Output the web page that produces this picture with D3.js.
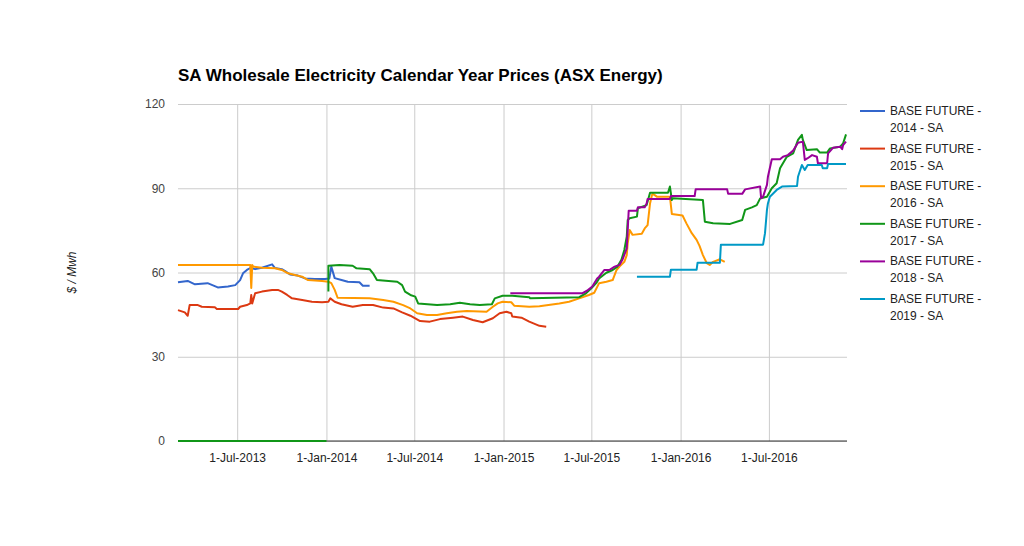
<!DOCTYPE html>
<html>
<head>
<meta charset="utf-8">
<script src="https://cdn.jsdelivr.net/npm/d3@7"></script>
<style>
  html, body { margin: 0; padding: 0; background: #fff; overflow: hidden; }
  svg { display: block; }
  text { font-family: "Liberation Sans", Arial, sans-serif; }
</style>
</head>
<body>
<div id="line-chart"></div>
<script>
// Chart data
const seriesNames = [
  "BASE FUTURE - 2014 - SA",
  "BASE FUTURE - 2015 - SA",
  "BASE FUTURE - 2016 - SA",
  "BASE FUTURE - 2017 - SA",
  "BASE FUTURE - 2018 - SA",
  "BASE FUTURE - 2019 - SA"
];

const base2014 = [
  ["2013-03-01",56.5],["2013-03-21",57],["2013-04-05",55.8],["2013-05-01",56.2],["2013-05-22",54.7],
  ["2013-06-12",55],["2013-06-27",55.5],["2013-07-07",57.3],["2013-07-13",59.7],["2013-07-21",60.9],
  ["2013-07-28",61.6],["2013-08-07",61.2],["2013-08-21",61.7],["2013-09-11",62.9],["2013-09-17",61.6],
  ["2013-10-01",61.2],["2013-10-08",60.5],["2013-10-18",59.3],["2013-11-03",58.9],["2013-11-18",57.9],
  ["2013-12-08",57.7],["2013-12-29",57.7],["2014-01-07",57.9],["2014-01-11",62.1],["2014-01-18",58],
  ["2014-02-01",57.3],["2014-02-14",56.7],["2014-03-10",56.5],["2014-03-17",55.3],["2014-03-31",55.3]
];

const base2015 = [
  ["2013-03-01",46.6],["2013-03-15",45.8],["2013-03-21",44.6],["2013-03-25",48.4],["2013-04-11",48.4],
  ["2013-04-19",47.8],["2013-05-16",47.6],["2013-05-20",47],["2013-07-03",47],["2013-07-07",47.8],
  ["2013-07-21",48.4],["2013-07-28",49],["2013-07-30",52],["2013-08-01",49],["2013-08-07",52.6],
  ["2013-08-21",53.2],["2013-09-11",53.8],["2013-09-23",53.8],["2013-10-01",53.2],["2013-10-12",52],
  ["2013-10-22",50.8],["2013-11-12",50.2],["2013-12-02",49.6],["2013-12-23",49.4],["2014-01-05",49.6],
  ["2014-01-09",50.8],["2014-01-18",49.6],["2014-02-01",48.7],["2014-02-24",47.8],["2014-03-17",48.4],
  ["2014-04-07",48.4],["2014-04-28",47.5],["2014-05-19",47.2],["2014-06-06",45.8],["2014-06-23",44.6],
  ["2014-07-13",42.7],["2014-08-02",42.5],["2014-08-23",43.4],["2014-09-19",43.9],["2014-10-09",44.3],
  ["2014-10-30",43.1],["2014-11-19",42.3],["2014-12-10",43.7],["2014-12-24",45.5],["2015-01-07",46],
  ["2015-01-17",45.5],["2015-01-19",44.3],["2015-02-07",43.9],["2015-02-23",42.5],["2015-03-16",41],
  ["2015-03-30",40.7]
];

const base2016 = [
  ["2013-03-01",62.7],["2013-07-28",62.7],["2013-07-30",54.5],["2013-08-01",62.7],["2013-08-03",62.1],
  ["2013-08-21",61.7],["2013-09-17",61.5],["2013-10-01",60.9],["2013-10-14",59.7],["2013-10-28",59.1],
  ["2013-11-12",58.5],["2013-11-24",57.3],["2013-12-23",57],["2014-01-05",56.7],["2014-01-11",56.2],
  ["2014-01-18",53.8],["2014-01-24",51],["2014-03-31",50.8],["2014-04-28",50.2],["2014-05-19",49.6],
  ["2014-06-08",48.4],["2014-06-23",47.2],["2014-07-07",45.5],["2014-07-27",44.9],["2014-08-17",44.9],
  ["2014-09-06",45.5],["2014-09-27",46],["2014-10-17",46.3],["2014-11-27",46],["2014-12-10",47.8],
  ["2014-12-20",49],["2014-12-30",49.6],["2015-01-17",49.4],["2015-01-23",48.2],["2015-02-23",47.8],
  ["2015-03-16",48],["2015-04-26",49],["2015-05-16",49.6],["2015-06-06",50.8],["2015-06-26",52],
  ["2015-07-07",52.8],["2015-07-17",56.2],["2015-08-01",56.7],["2015-08-14",57.3],["2015-08-22",60.9],
  ["2015-08-28",62.1],["2015-09-07",63.8],["2015-09-12",66.2],["2015-09-14",70.4],["2015-09-18",75.1],
  ["2015-09-24",73.4],["2015-10-13",73.8],["2015-10-19",75.7],["2015-10-25",76.9],["2015-10-30",84.6],
  ["2015-11-03",87.6],["2015-11-05",88],["2015-11-13",87],["2015-12-10",87],["2015-12-14",80.8],
  ["2016-01-05",80.3],["2016-01-13",77.5],["2016-01-24",74],["2016-02-03",71.6],["2016-02-09",69.5],
  ["2016-02-16",66.2],["2016-02-24",63.3],["2016-03-01",62.7],["2016-03-08",63.8],["2016-03-22",64.7],
  ["2016-04-01",63.8]
];

// null marks the gap after the zero run
const base2017 = [
  ["2013-03-01",0],["2014-01-01",0],["2014-01-03",null],
  ["2014-01-05",53.2],["2014-01-05",62.4],["2014-01-28",62.7],["2014-02-24",62.4],["2014-03-04",61.5],
  ["2014-03-31",61.2],["2014-04-07",59.7],["2014-04-15",57.3],["2014-05-27",56.7],["2014-06-06",55.5],
  ["2014-06-12",53.2],["2014-06-23",52],["2014-07-03",51.4],["2014-07-09",49],["2014-08-17",48.4],
  ["2014-09-13",48.7],["2014-10-03",49.2],["2014-10-24",48.7],["2014-11-13",48.4],["2014-12-08",48.7],
  ["2014-12-14",50.8],["2014-12-30",51.7],["2015-01-19",51.7],["2015-02-23",51.2],["2015-02-25",50.8],
  ["2015-06-06",51.2],["2015-06-20",52.6],["2015-07-01",54.4],["2015-07-11",56.2],["2015-07-17",57.9],
  ["2015-08-01",59.9],["2015-08-14",60.9],["2015-08-24",62.1],["2015-09-01",64.5],["2015-09-07",68],
  ["2015-09-12",72.8],["2015-09-14",78.7],["2015-09-18",79.3],["2015-10-03",79.9],["2015-10-05",82.9],
  ["2015-10-23",84],["2015-10-30",88.4],["2015-12-06",88.4],["2015-12-10",90.6],["2015-12-14",85.8],
  ["2015-12-16",86.4],["2016-02-16",85.8],["2016-02-20",78.1],["2016-03-08",77.5],["2016-04-12",77.3],
  ["2016-05-07",78.7],["2016-05-13",82.3],["2016-05-27",83.2],["2016-06-06",84],["2016-06-13",86.4],
  ["2016-06-27",87],["2016-07-07",90],["2016-07-17",91.8],["2016-07-24",97.1],["2016-07-30",98.9],
  ["2016-08-07",101.2],["2016-08-20",102.4],["2016-08-30",107.2],["2016-09-07",109],["2016-09-09",107.2],
  ["2016-09-17",103.6],["2016-10-08",103.9],["2016-10-14",102.7],["2016-10-29",102.7],["2016-11-04",104.2],
  ["2016-11-25",104.8],["2016-12-01",106],["2016-12-07",109.2]
];

const base2018 = [
  ["2015-01-15",52.6],["2015-06-12",52.6],["2015-06-22",53.5],["2015-07-03",55],["2015-07-13",57.9],
  ["2015-07-17",58.5],["2015-07-28",60.9],["2015-08-07",60.9],["2015-08-18",62.1],["2015-08-28",62.7],
  ["2015-09-03",64.5],["2015-09-12",68.6],["2015-09-16",82],["2015-10-03",82],["2015-10-05",83.2],
  ["2015-10-19",83.2],["2015-10-23",84.6],["2015-10-25",86.2],["2015-12-10",86.2],["2015-12-12",87.2],
  ["2016-01-30",87.2],["2016-02-01",89.6],["2016-04-06",89.6],["2016-04-08",88],["2016-05-07",88],
  ["2016-05-13",89.6],["2016-06-13",90.6],["2016-06-15",86.4],["2016-06-19",87],["2016-06-27",91.2],
  ["2016-06-29",94.1],["2016-07-07",100.3],["2016-07-24",100.3],["2016-07-30",101.2],["2016-08-09",101.8],
  ["2016-08-20",103.4],["2016-08-30",106.2],["2016-09-09",106.6],["2016-09-13",100.1],["2016-09-19",100.7],
  ["2016-09-28",101.8],["2016-10-08",101.2],["2016-10-10",98.9],["2016-10-29",98.9],["2016-10-31",102.4],
  ["2016-11-10",104.4],["2016-11-25",104.8],["2016-11-29",103.9],["2016-12-01",105.4],["2016-12-07",106.6]
];

const base2019 = [
  ["2015-10-03",58.5],["2015-12-10",58.5],["2015-12-12",61],["2016-02-03",61],["2016-02-05",63.5],
  ["2016-03-22",63.5],["2016-03-24",69.9],["2016-06-19",69.9],["2016-06-23",74],["2016-06-27",82.3],
  ["2016-06-29",84.6],["2016-07-03",87],["2016-07-17",89.4],["2016-07-28",90.6],["2016-08-28",90.8],
  ["2016-08-30",94.1],["2016-09-07",98.3],["2016-09-13",96.5],["2016-09-19",98.3],["2016-10-18",98.3],
  ["2016-10-20",97.1],["2016-10-29",97.1],["2016-10-31",98.6],["2016-12-07",98.6]
];

const yTicks = [0, 30, 60, 90, 120];
const xTicks = ["2013-07-01","2014-01-01","2014-07-01","2015-01-01","2015-07-01","2016-01-01","2016-07-01"];
const xDomain = ["2013-03-01","2016-12-09"];

const colors = ["#3366cc","#dc3912","#ff9900","#109618","#990099","#0099c6"];

const width = 1024, height = 546;
const margin = {top: 104, right: 177, bottom: 105, left: 178};
const innerWidth = width - margin.left - margin.right;
const innerHeight = height - margin.top - margin.bottom;

const parseDate = d3.timeParse("%Y-%m-%d");
const allSeries = [base2014, base2015, base2016, base2017, base2018, base2019].map((s, i) => ({
  name: seriesNames[i],
  color: colors[i],
  values: s.map(([d, v]) => ({date: parseDate(d), value: v}))
}));

/*******************************/
/*    Append the containers    */
/*******************************/
const svg = d3.select("#line-chart")
  .append("svg")
    .attr("width", width)
    .attr("height", height)
    .attr("viewBox", `0, 0, ${width}, ${height}`);

svg.append("rect")
  .attr("width", width).attr("height", height).attr("fill", "#fff");

const innerChart = svg
  .append("g")
    .attr("transform", `translate(${margin.left}, ${margin.top})`);

/****************************/
/*    Declare the scales    */
/****************************/
const xScale = d3.scaleTime()
  .domain(xDomain.map(parseDate))
  .range([0, innerWidth]);

const yScale = d3.scaleLinear()
  .domain([0, 120])
  .range([innerHeight, 0]);

/***************************/
/*     Append the axes     */
/***************************/
// Horizontal gridlines + left labels
const leftAxis = d3.axisLeft(yScale)
  .tickValues(yTicks)
  .tickSize(-innerWidth)
  .tickPadding(13);
const yAxis = innerChart.append("g")
  .attr("class", "axis-y")
  .call(leftAxis);
yAxis.select(".domain").remove();
yAxis.selectAll("line").attr("stroke", "#cccccc");
yAxis.selectAll("text")
  .attr("fill", "#444")
  .style("font-size", "12px");

// Vertical gridlines + bottom labels
const bottomAxis = d3.axisBottom(xScale)
  .tickValues(xTicks.map(parseDate))
  .tickFormat(d3.timeFormat("%-d-%b-%Y"))
  .tickSize(-innerHeight)
  .tickPadding(12);
const xAxis = innerChart.append("g")
  .attr("class", "axis-x")
  .attr("transform", `translate(0, ${innerHeight})`)
  .call(bottomAxis);
xAxis.select(".domain").remove();
xAxis.selectAll("line").attr("stroke", "#cccccc");
xAxis.selectAll("text")
  .attr("fill", "#222")
  .style("font-size", "12px");

// Baseline
innerChart.append("line")
  .attr("x1", 0).attr("x2", innerWidth)
  .attr("y1", yScale(0)).attr("y2", yScale(0))
  .attr("stroke", "#333").attr("stroke-width", 1);

/*****************************/
/*     Line chart series     */
/*****************************/
const curveGenerator = d3.line()
  .defined(d => d.value !== null)
  .x(d => xScale(d.date))
  .y(d => yScale(d.value));

allSeries.forEach(s => {
  innerChart.append("path")
    .attr("d", curveGenerator(s.values))
    .attr("fill", "none")
    .attr("stroke", s.color)
    .attr("stroke-width", 2)
    .attr("stroke-linejoin", "round");
});

/*****************************/
/*     Title and labels      */
/*****************************/
svg.append("text")
  .text("SA Wholesale Electricity Calendar Year Prices (ASX Energy)")
  .attr("x", margin.left)
  .attr("y", 81)
  .attr("fill", "#000")
  .style("font-size", "17px")
  .style("font-weight", "bold");

svg.append("text")
  .text("$ / Mwh")
  .attr("transform", `translate(76, ${margin.top + innerHeight / 2}) rotate(-90)`)
  .attr("text-anchor", "middle")
  .attr("fill", "#222")
  .style("font-size", "12px")
  .style("font-style", "italic");

// Legend
const legend = svg.append("g")
  .attr("transform", "translate(860, 111)");
allSeries.forEach((s, i) => {
  const g = legend.append("g").attr("transform", `translate(0, ${i * 37.6})`);
  g.append("line")
    .attr("x1", 0).attr("x2", 25)
    .attr("stroke", s.color).attr("stroke-width", 2);
  const parts = s.name.split(" - ");
  const label = g.append("text")
    .attr("x", 30)
    .attr("fill", "#222")
    .style("font-size", "12px");
  label.append("tspan").attr("x", 30).attr("y", 4).text(`${parts[0]} -`);
  label.append("tspan").attr("x", 30).attr("y", 21).text(`${parts[1]} - ${parts[2]}`);
});
</script>
</body>
</html>
